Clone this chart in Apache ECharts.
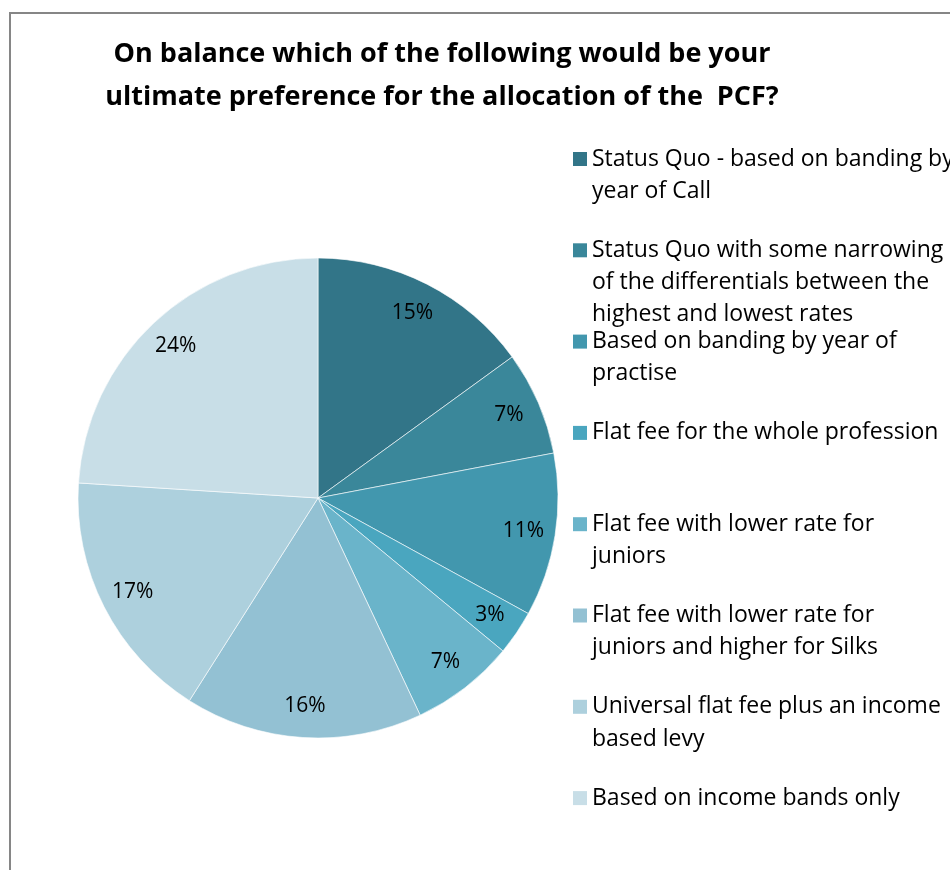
<!DOCTYPE html>
<html>
<head>
<meta charset="utf-8">
<script src="https://cdn.jsdelivr.net/npm/echarts@6/dist/echarts.min.js"></script>
<style>
html,body{margin:0;padding:0;background:#fff;}
#chart{width:950px;height:870px;}
</style>
</head>
<body>
<div id="chart"></div>
<script>
const titleText = 'On balance which of the following would be your\nultimate preference for the allocation of the  PCF?';
const categories = [
  'Status Quo - based on banding by year of Call',
  'Status Quo with some narrowing of the differentials between the highest and lowest rates',
  'Based on banding by year of practise',
  'Flat fee for the whole profession',
  'Flat fee with lower rate for juniors',
  'Flat fee with lower rate for juniors and higher for Silks',
  'Universal flat fee plus an income based levy',
  'Based on income bands only'
];
const legendText = [
  'Status Quo - based on banding by\nyear of Call',
  'Status Quo with some narrowing\nof the differentials between the\nhighest and lowest rates',
  'Based on banding by year of\npractise',
  'Flat fee for the whole profession',
  'Flat fee with lower rate for\njuniors',
  'Flat fee with lower rate for\njuniors and higher for Silks',
  'Universal flat fee plus an income\nbased levy',
  'Based on income bands only'
];
const values = [15, 7, 11, 3, 7, 16, 17, 24];
const colors = ['#327588', '#3a879a', '#4297ae', '#4aa6bf', '#6ab4ca', '#93c1d3', '#add0dd', '#c8dee7'];

const FONT = '"Open Sans"';
const LH = 32.3;
const chart = echarts.init(document.getElementById('chart'));

const data = categories.map((c, i) => ({ name: c, value: values[i], itemStyle: { color: colors[i] } }));

const legends = categories.map((c, i) => {
  const n = legendText[i].split('\n').length;
  const center = 159 + 91.3 * i;
  const blank = '\n'.repeat(n - 1);
  return {
    orient: 'vertical',
    left: 573,
    top: center - (2 * n - 1) * LH / 2,
    padding: 0,
    itemWidth: 14,
    itemHeight: 14,
    itemGap: 0,
    icon: 'rect',
    selectedMode: false,
    itemStyle: { borderWidth: 0 },
    data: [c],
    formatter: () => blank + legendText[i],
    textStyle: {
      fontFamily: FONT,
      fontSize: 23,
      color: '#000',
      lineHeight: LH
    }
  };
});

chart.setOption({
  animation: false,
  title: {
    text: titleText,
    left: 442,
    top: 33,
    padding: 0,
    textAlign: 'center',
    textStyle: { fontFamily: FONT, fontSize: 27, fontWeight: 'bold', color: '#000', lineHeight: 43 }
  },
  legend: legends,
  graphic: [{
    type: 'rect',
    shape: { x: 10, y: 13, width: 1000, height: 900 },
    style: { fill: 'none', stroke: '#868686', lineWidth: 2 },
    silent: true, z: -10
  }],
  series: [
    {
      type: 'pie',
      center: [318, 498],
      radius: [0, 240],
      startAngle: 90,
      clockwise: true,
      data: data,
      label: { show: false },
      labelLine: { show: false },
      itemStyle: { borderColor: '#ffffff', borderWidth: 0.6 },
      emphasis: { disabled: true }
    },
    {
      type: 'pie',
      center: [318, 498],
      radius: [170, 240],
      startAngle: 90,
      clockwise: true,
      silent: true,
      data: categories.map((c, i) => ({ name: c, value: values[i] })),
      itemStyle: { color: 'transparent', borderWidth: 0 },
      label: {
        show: true,
        position: 'inside',
        formatter: '{c}%',
        fontFamily: FONT,
        fontSize: 21,
        color: '#000'
      },
      labelLine: { show: false },
      emphasis: { disabled: true }
    }
  ]
});
</script>
</body>
</html>
